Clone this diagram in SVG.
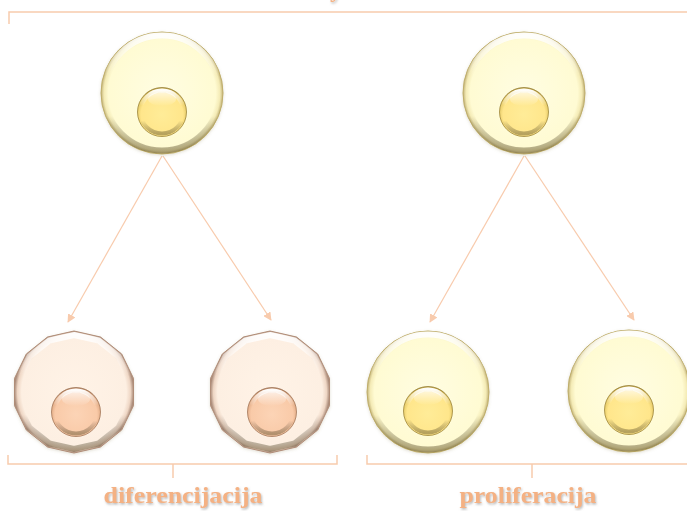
<svg xmlns="http://www.w3.org/2000/svg" width="687" height="511" viewBox="0 0 687 511">
  <defs>
    <style>
      .brace { fill: none; stroke: #f8cbad; stroke-width: 1.5; }
      .arrow { stroke: #f8cbad; stroke-width: 1.2; fill: none; marker-end: url(#head); }
      .label { font-family: "Liberation Serif", "DejaVu Serif", serif; font-weight: bold; font-size: 24px; fill: #f4b183; filter: url(#txtShadow); }
      .bevel { fill: none; stroke: url(#bevel); }
    </style>
    <marker id="head" viewBox="0 0 10 10" refX="9" refY="5" markerWidth="7" markerHeight="7" markerUnits="strokeWidth" orient="auto">
      <path d="M0,0 L10,5 L0,10 z" fill="#f8cbad"/>
    </marker>
    <filter id="txtShadow" x="-10%" y="-30%" width="120%" height="160%">
      <feDropShadow dx="1" dy="1.5" stdDeviation="0.8" flood-color="#7f7f7f" flood-opacity="0.55"/>
    </filter>
    <filter id="soft" x="-20%" y="-20%" width="140%" height="140%">
      <feDropShadow dx="0" dy="1" stdDeviation="1.5" flood-color="#8a7a50" flood-opacity="0.25"/>
    </filter>
    <radialGradient id="cytY" cx="50%" cy="50%" r="50%">
      <stop offset="0" stop-color="#fffde2"/>
      <stop offset="0.88" stop-color="#fffbd3"/>
      <stop offset="0.95" stop-color="#f4ebb6"/>
      <stop offset="1" stop-color="#c2b278"/>
    </radialGradient>
    <radialGradient id="nucY" cx="50%" cy="55%" r="55%">
      <stop offset="0" stop-color="#ffec98"/>
      <stop offset="0.78" stop-color="#ffe68b"/>
      <stop offset="0.93" stop-color="#e6cb68"/>
      <stop offset="1" stop-color="#a48c3e"/>
    </radialGradient>
    <radialGradient id="cytP" cx="50%" cy="50%" r="50%">
      <stop offset="0" stop-color="#fff3e7"/>
      <stop offset="0.88" stop-color="#fdefe2"/>
      <stop offset="0.95" stop-color="#eed6c4"/>
      <stop offset="1" stop-color="#ad8e7c"/>
    </radialGradient>
    <radialGradient id="nucP" cx="50%" cy="55%" r="55%">
      <stop offset="0" stop-color="#fcd4b6"/>
      <stop offset="0.78" stop-color="#f9caa8"/>
      <stop offset="0.93" stop-color="#e2ac86"/>
      <stop offset="1" stop-color="#a47a5c"/>
    </radialGradient>
    <linearGradient id="bevel" x1="0" y1="0" x2="0" y2="1">
      <stop offset="0" stop-color="#ffffff" stop-opacity="0.95"/>
      <stop offset="0.35" stop-color="#ffffff" stop-opacity="0"/>
      <stop offset="0.7" stop-color="#000000" stop-opacity="0"/>
      <stop offset="1" stop-color="#4a3c18" stop-opacity="0.4"/>
    </linearGradient>
    <linearGradient id="shine" x1="0" y1="0" x2="0" y2="1">
      <stop offset="0" stop-color="#ffffff" stop-opacity="0.85"/>
      <stop offset="1" stop-color="#ffffff" stop-opacity="0"/>
    </linearGradient>

    <!-- round cell, centred on the origin -->
    <g id="roundCell">
      <circle r="61" fill="url(#cytY)" stroke="#bfae6a" stroke-width="1" filter="url(#soft)"/>
      <circle r="57.5" class="bevel" stroke-width="6"/>
      <g transform="translate(0,19)">
        <circle r="24.5" fill="url(#nucY)" stroke="#9c8438" stroke-width="0.8"/>
        <circle r="21.5" class="bevel" stroke-width="4"/>
        <ellipse cx="0" cy="-13" rx="14" ry="7" fill="url(#shine)" opacity="0.8"/>
      </g>
    </g>

    <!-- polygonal cell, centred on the origin -->
    <g id="polyCell">
      <polygon points="0,-61 26.5,-55 47.7,-38 59.5,-13.6 59.5,13.6 47.7,38 26.5,55 0,61 -26.5,55 -47.7,38 -59.5,13.6 -59.5,-13.6 -47.7,-38 -26.5,-55" fill="url(#cytP)" stroke="#b08d78" stroke-width="1" filter="url(#soft)"/>
      <polygon points="0,-57 24.7,-51.4 44.6,-35.5 55.6,-12.7 55.6,12.7 44.6,35.5 24.7,51.4 0,57 -24.7,51.4 -44.6,35.5 -55.6,12.7 -55.6,-12.7 -44.6,-35.5 -24.7,-51.4" class="bevel" stroke-width="6"/>
      <g transform="translate(2,20)">
        <circle r="24.5" fill="url(#nucP)" stroke="#a27658" stroke-width="0.8"/>
        <circle r="21.5" class="bevel" stroke-width="4"/>
        <ellipse cx="0" cy="-13" rx="14" ry="7" fill="url(#shine)" opacity="0.8"/>
      </g>
    </g>
  </defs>

  <rect width="687" height="511" fill="#ffffff"/>

  <!-- heading remnant and top brace -->
  <text x="330" y="-3" class="label">y</text>
  <path class="brace" d="M9,24 V12 H687"/>

  <!-- connectors -->
  <g id="connectors">
    <line class="arrow" x1="162" y1="156" x2="68" y2="322"/>
    <line class="arrow" x1="163" y1="156" x2="271" y2="320"/>
    <line class="arrow" x1="524" y1="156" x2="430" y2="322"/>
    <line class="arrow" x1="525" y1="156" x2="634" y2="320"/>
  </g>

  <!-- parent cells -->
  <g id="parent-left"><use href="#roundCell" transform="translate(162,93)"/></g>
  <g id="parent-right"><use href="#roundCell" transform="translate(524,93)"/></g>

  <!-- differentiated daughters -->
  <g id="diff-1"><use href="#polyCell" transform="translate(74,392)"/></g>
  <g id="diff-2"><use href="#polyCell" transform="translate(270,392)"/></g>

  <!-- proliferating daughters -->
  <g id="prolif-1"><use href="#roundCell" transform="translate(428,392)"/></g>
  <g id="prolif-2"><use href="#roundCell" transform="translate(629,391)"/></g>

  <!-- bottom braces and labels -->
  <g id="brace-diff">
    <path class="brace" d="M8,455 V464 H337 V455 M173,464 V478"/>
    <text x="183" y="503" text-anchor="middle" class="label" textLength="159" lengthAdjust="spacingAndGlyphs">diferencijacija</text>
  </g>
  <g id="brace-prolif">
    <path class="brace" d="M367,455 V464 H687 M532,464 V478"/>
    <text x="528" y="503" text-anchor="middle" class="label" textLength="137" lengthAdjust="spacingAndGlyphs">proliferacija</text>
  </g>
</svg>
